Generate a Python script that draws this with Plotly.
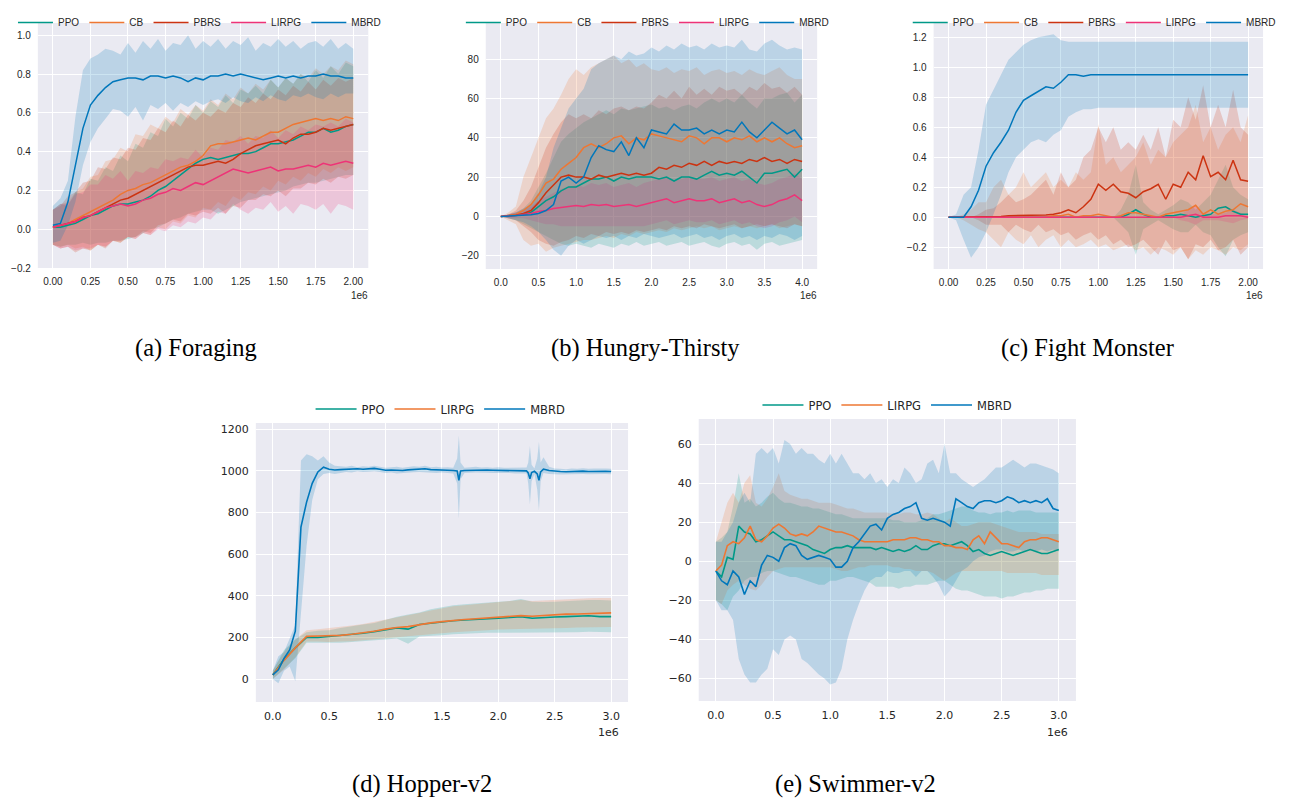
import plotly.graph_objects as go

# ---------------- data ----------------
A_STEPS = [round(0.05 * i, 2) for i in range(41)]      # x 1e6, Foraging
B_STEPS = [round(0.1 * i, 1) for i in range(41)]       # x 1e6, Hungry-Thirsty
C_STEPS = [round(0.05 * i, 2) for i in range(41)]      # x 1e6, Fight Monster
D_STEPS = [round(0.1 * i, 1) for i in range(31)]       # x 1e6, Hopper (PPO, LIRPG)
D_MBRD_STEPS = [0.00, 0.05, 0.10, 0.15, 0.20, 0.25, 0.30, 0.35, 0.40, 0.45,
                0.50, 0.55, 0.60, 0.65, 0.70, 0.75, 0.80, 0.85, 0.90, 0.95,
                1.00, 1.05, 1.10, 1.15, 1.20, 1.25, 1.30, 1.35, 1.40, 1.45,
                1.50, 1.55, 1.60, 1.635, 1.65, 1.665,
                1.70, 1.75, 1.80, 1.85, 1.90, 1.95, 2.00, 2.05, 2.10, 2.15, 2.20, 2.25,
                2.265, 2.28, 2.295, 2.32, 2.345, 2.36, 2.375,
                2.40, 2.45, 2.50, 2.55, 2.60, 2.65, 2.70, 2.75, 2.80, 2.85, 2.90, 2.95, 3.00]
E_STEPS = [round(0.05 * i, 2) for i in range(61)]      # x 1e6, Swimmer

# (a) Foraging
A_PPO = [0.01,0.01,0.02,0.03,0.05,0.07,0.08,0.10,0.12,0.13, 0.13,0.14,0.15,0.17,0.20,0.22,0.25,0.28,0.31,0.34,
         0.36,0.37,0.36,0.37,0.38,0.39,0.39,0.40,0.42,0.44, 0.44,0.45,0.46,0.48,0.50,0.50,0.52,0.50,0.51,0.53, 0.54]
A_PPO_UP = [0.10,0.13,0.12,0.19,0.18,0.26,0.25,0.32,0.30,0.38, 0.35,0.44,0.42,0.50,0.48,0.57,0.53,0.60,0.57,0.64,
            0.60,0.66,0.63,0.69,0.65,0.72,0.70,0.74,0.70,0.77, 0.73,0.78,0.75,0.80,0.76,0.82,0.78,0.84,0.80,0.86, 0.84]
A_PPO_LO = [-0.08,-0.09,-0.08,-0.08,-0.07,-0.08,-0.07,-0.07,-0.06,-0.06, -0.05,-0.04,-0.02,0.00,0.01,0.03,0.05,0.06,0.08,0.09,
            0.10,0.10,0.08,0.10,0.12,0.14,0.15,0.16,0.17,0.18, 0.19,0.20,0.22,0.23,0.24,0.24,0.25,0.26,0.27,0.28, 0.28]
A_CB = [0.01,0.02,0.03,0.05,0.07,0.09,0.11,0.13,0.15,0.18, 0.20,0.21,0.23,0.24,0.26,0.28,0.30,0.32,0.33,0.35,
        0.38,0.43,0.44,0.44,0.45,0.46,0.47,0.46,0.48,0.50, 0.50,0.52,0.54,0.55,0.56,0.57,0.56,0.57,0.56,0.58, 0.57]
A_CB_UP = [0.10,0.13,0.14,0.19,0.21,0.27,0.28,0.35,0.36,0.42, 0.40,0.49,0.48,0.54,0.52,0.58,0.55,0.62,0.59,0.64,
           0.61,0.67,0.64,0.70,0.67,0.73,0.70,0.75,0.72,0.77, 0.73,0.78,0.75,0.80,0.78,0.83,0.80,0.84,0.82,0.87, 0.85]
A_CB_LO = [-0.08,-0.09,-0.08,-0.10,-0.09,-0.11,-0.08,-0.09,-0.06,-0.07, -0.04,-0.05,-0.02,-0.03,0.01,0.00,0.04,0.03,0.07,0.06,
           0.11,0.10,0.14,0.12,0.17,0.15,0.19,0.18,0.22,0.20, 0.25,0.23,0.27,0.25,0.29,0.27,0.31,0.29,0.32,0.30, 0.32]
A_PBRS = [0.01,0.02,0.03,0.04,0.06,0.07,0.09,0.11,0.13,0.15, 0.16,0.18,0.20,0.22,0.24,0.26,0.28,0.30,0.32,0.33,
          0.33,0.34,0.35,0.34,0.36,0.39,0.41,0.43,0.44,0.45, 0.46,0.44,0.47,0.49,0.49,0.50,0.52,0.51,0.52,0.53, 0.54]
A_PBRS_UP = [0.10,0.12,0.17,0.19,0.24,0.25,0.32,0.31,0.37,0.36, 0.42,0.41,0.47,0.46,0.52,0.50,0.56,0.53,0.59,0.56,
             0.60,0.58,0.62,0.60,0.65,0.63,0.68,0.65,0.70,0.67, 0.72,0.69,0.74,0.71,0.76,0.72,0.77,0.74,0.78,0.76, 0.78]
A_PBRS_LO = [-0.08,-0.10,-0.09,-0.12,-0.10,-0.11,-0.08,-0.10,-0.06,-0.07, -0.04,-0.04,-0.01,-0.02,0.02,0.03,0.05,0.04,0.08,0.07,
             0.09,0.08,0.11,0.08,0.12,0.11,0.15,0.15,0.18,0.17, 0.20,0.17,0.21,0.21,0.24,0.23,0.26,0.24,0.27,0.26, 0.28]
A_LIRPG = [0.01,0.02,0.03,0.04,0.06,0.07,0.09,0.11,0.12,0.13, 0.12,0.13,0.15,0.16,0.18,0.19,0.21,0.20,0.22,0.24,
           0.23,0.25,0.27,0.29,0.31,0.30,0.29,0.30,0.31,0.32, 0.30,0.31,0.31,0.32,0.33,0.32,0.34,0.33,0.34,0.35, 0.34]
A_LIRPG_UP = [0.10,0.13,0.13,0.18,0.19,0.23,0.23,0.28,0.26,0.30, 0.25,0.30,0.29,0.32,0.31,0.36,0.35,0.37,0.36,0.41,
              0.37,0.42,0.41,0.46,0.45,0.48,0.44,0.48,0.47,0.51, 0.47,0.51,0.49,0.53,0.51,0.54,0.53,0.55,0.53,0.57, 0.55]
A_LIRPG_LO = [-0.08,-0.10,-0.09,-0.11,-0.10,-0.10,-0.08,-0.09,-0.06,-0.06, -0.04,-0.05,-0.02,-0.03,0.00,-0.01,0.02,0.01,0.04,0.03,
              0.06,0.05,0.09,0.08,0.13,0.10,0.08,0.11,0.10,0.14, 0.09,0.12,0.08,0.13,0.12,0.10,0.13,0.08,0.13,0.12, 0.10]
A_MBRD = [0.02,0.03,0.14,0.34,0.52,0.64,0.69,0.73,0.76,0.77, 0.78,0.78,0.77,0.79,0.79,0.78,0.79,0.78,0.76,0.78,
          0.77,0.79,0.79,0.80,0.79,0.80,0.79,0.78,0.77,0.78, 0.79,0.78,0.79,0.78,0.79,0.79,0.80,0.79,0.79,0.78, 0.78]
A_MBRD_UP = [0.12,0.16,0.25,0.58,0.82,0.88,0.90,0.93,0.92,0.90, 0.96,0.91,0.97,0.93,0.98,0.92,0.96,0.95,1.00,0.93,
             0.97,0.94,0.98,0.93,0.97,0.95,0.99,0.92,0.96,0.94, 0.98,0.94,0.97,0.93,0.96,0.97,0.94,0.98,0.93,0.96, 0.93]
A_MBRD_LO = [-0.07,-0.06,0.02,0.14,0.33,0.45,0.52,0.57,0.62,0.61, 0.58,0.63,0.56,0.64,0.62,0.65,0.61,0.65,0.63,0.66,
             0.64,0.66,0.67,0.65,0.68,0.66,0.65,0.68,0.66,0.69, 0.67,0.66,0.69,0.68,0.70,0.68,0.67,0.70,0.68,0.70, 0.70]

# (b) Hungry-Thirsty
B_PPO = [0,0.2,0.5,1,2,5,8,10,13,15, 15,17,19,19,20,18,20,19,20,20, 20,19,20,18,20,20,19,21,23,21,
         22,21,23,20,17,22,22,23,24,20, 24]
B_PPO_UP = [0,1,2,4,8,15,22,30,38,42, 45,48,50,52,54,52,55,54,55,56, 57,55,56,54,56,57,55,58,60,58,
            60,58,62,58,55,60,60,62,63,58, 62]
B_PPO_LO = [0,-1,-2,-4,-6,-8,-10,-12,-14,-15, -14,-15,-16,-14,-15,-16,-14,-15,-13,-15, -14,-13,-15,-14,-13,-15,-14,-13,-15,-16,
            -14,-13,-15,-14,-17,-14,-13,-15,-14,-13, -12]
B_CB = [0,0.5,1,3,6,11,17,19,24,27, 30,35,37,35,37,40,41,37,40,39, 42,41,40,39,38,41,40,37,40,40,
        38,40,39,41,38,40,38,40,37,35, 36]
B_CB_UP = [0,2,5,20,30,40,50,55,62,70, 75,72,76,78,80,82,78,80,76,78, 75,74,76,73,75,74,76,72,74,75,
           73,74,72,75,73,72,74,76,72,70, 70]
B_CB_LO = [0,-2,-4,-12,-15,-14,-18,-16,-15,-14, -13,-12,-12,-11,-10,-11,-9,-10,-8,-9, -8,-7,-8,-6,-7,-6,-5,-6,-5,-7,
           -6,-5,-6,-5,-6,-5,-4,-6,-5,-4, -5]
B_PBRS = [0,0.3,0.6,1.5,3,7,12,16,20,21, 20,20,19,21,20,21,22,21,22,21, 22,25,24,26,25,27,26,28,26,28,
          27,28,27,29,28,30,28,29,27,29, 28]
B_PBRS_UP = [0,1,3,8,15,25,35,42,48,52, 50,52,50,54,52,55,56,54,56,55, 58,62,60,64,60,66,62,65,62,66,
             64,65,62,66,64,68,65,66,63,66, 62]
B_PBRS_LO = [0,-1,-2,-5,-8,-12,-14,-15,-13,-12, -10,-11,-9,-10,-8,-9,-8,-9,-7,-8, -7,-6,-7,-5,-6,-5,-6,-4,-5,-6,
             -5,-4,-6,-5,-4,-5,-4,-5,-6,-4, -5]
B_LIRPG = [0,0.2,0.5,1,1.5,2.5,3,4,4.5,5, 5.5,5,6,5.5,6,5,5.5,6,5,6, 7,8,9,7,8,9,8,8,9,7,
           8,9,7,8,6,5,6,8,9,11, 8]
B_LIRPG_UP = [0,1,2,3,5,8,10,12,14,15, 16,15,17,16,17,15,16,17,15,17, 18,19,20,18,19,20,19,19,20,18,
              19,20,18,19,17,16,17,19,20,22, 19]
B_LIRPG_LO = [0,-1,-1,-1,-2,-3,-4,-4,-5,-5, -5,-5,-5,-5,-5,-5,-5,-5,-5,-5, -4,-3,-2,-4,-3,-2,-3,-3,-2,-4,
              -3,-2,-4,-3,-5,-6,-5,-3,-2,0, -3]
B_MBRD = [0,0.2,0.3,0.5,0.8,1.5,3,6,18,20, 17,20,30,36,34,33,38,31,40,35, 44,43,42,47,44,44,45,42,44,42,
          44,43,48,43,40,44,48,45,42,44, 39]
B_MBRD_UP = [0,1,2,4,6,12,20,35,45,55, 60,65,75,78,80,82,80,84,82,83, 86,84,87,85,88,86,87,85,88,86,
             87,86,90,85,84,88,90,87,85,86, 85]
B_MBRD_LO = [0,-1,-2,-3,-5,-8,-12,-17,-20,-15, -12,-14,-12,-10,-11,-10,-12,-10,-11,-9, -10,-11,-10,-9,-11,-10,-9,-11,-10,-12,
             -10,-9,-11,-10,-12,-10,-11,-9,-10,-12, -10]

# (c) Fight Monster
C_PPO = [0,0,0,0,0,0,0,0,0,0, 0,0,0,0,0,0,0,0,0,0, 0,0,0,0,0.02,0.05,0.02,0,0,0.01,
         0.01,0.02,0.01,0,0.01,0.02,0.06,0.07,0.04,0.02, 0.02]
C_PPO_UP = [0,0,0,0,0,0,0,0,0,0, 0,0,0,0,0,0,0,0,0,0, 0,0,0,0.05,0.15,0.35,0.10,0.05,0.02,0.05,
            0.08,0.12,0.10,0.05,0.10,0.15,0.25,0.35,0.20,0.15, 0.12]
C_PPO_LO = [0,0,0,0,0,0,0,0,0,0, 0,0,0,0,0,0,0,0,0,0, 0,0,0,-0.05,-0.10,-0.25,-0.08,-0.05,-0.02,-0.05,
            -0.08,-0.10,-0.10,-0.05,-0.10,-0.12,-0.20,-0.26,-0.15,-0.12, -0.10]
C_CB = [0,0,0,0,0,0,0,0,0,0, 0,0,0,0,0.01,0.01,0.02,0,0.01,0.01, 0.02,0.01,0,0.01,0.03,0.03,0.02,0.01,0,0.02,
        0.03,0.04,0.05,0.08,0.02,0.05,0.02,0.04,0.05,0.09, 0.07]
C_CB_UP = [0,0,0.02,0.05,0.10,0.10,0.20,0.25,0.15,0.20, 0.30,0.20,0.25,0.30,0.20,0.25,0.20,0.30,0.25,0.30,
           0.62,0.35,0.40,0.30,0.35,0.40,0.50,0.35,0.45,0.40, 0.50,0.55,0.60,0.75,0.50,0.60,0.45,0.55,0.60,0.50, 0.68]
C_CB_LO = [0,0,-0.02,-0.05,-0.08,-0.10,-0.15,-0.20,-0.10,-0.15, -0.18,-0.12,-0.20,-0.15,-0.12,-0.20,-0.15,-0.20,-0.18,-0.15,
           -0.20,-0.18,-0.22,-0.20,-0.18,-0.22,-0.20,-0.25,-0.20,-0.22, -0.25,-0.20,-0.28,-0.22,-0.25,-0.20,-0.22,-0.25,-0.20,-0.22, -0.18]
C_PBRS = [0,0,0,0,0,0,0.005,0.005,0.01,0.01, 0.01,0.01,0.01,0.015,0.02,0.03,0.05,0.03,0.07,0.12,
          0.22,0.18,0.22,0.17,0.16,0.13,0.17,0.19,0.22,0.12, 0.22,0.20,0.30,0.25,0.41,0.27,0.30,0.25,0.38,0.25, 0.24]
C_PBRS_UP = [0,0,0,0,0.02,0.05,0.06,0.10,0.15,0.10, 0.12,0.15,0.20,0.25,0.15,0.30,0.20,0.25,0.40,0.45,
             0.60,0.50,0.60,0.45,0.50,0.45,0.55,0.45,0.60,0.40, 0.65,0.60,0.80,0.65,0.88,0.60,0.75,0.60,0.85,0.60, 0.55]
C_PBRS_LO = [0,0,0,0,-0.02,-0.05,-0.05,-0.05,-0.10,-0.05, -0.08,-0.10,-0.05,-0.10,-0.08,-0.12,-0.10,-0.15,-0.12,-0.10,
             -0.15,-0.12,-0.18,-0.15,-0.20,-0.18,-0.15,-0.20,-0.25,-0.15, -0.22,-0.20,-0.28,-0.18,-0.20,-0.15,-0.22,-0.20,-0.15,-0.25, -0.20]
C_LIRPG = [0,0,0,0,0,0,0,0,0,0, 0,0,0,0,0,0,0,0,0,0, 0,0,0,0,0,0,0,0,0,0,
           0,0,0.01,0.02,0,0,0,0.01,0.01,0.01, 0]
C_LIRPG_UP = [0,0,0,0,0,0,0,0,0,0, 0,0,0,0,0,0,0,0,0,0, 0,0,0,0,0,0,0,0,0,0,
              0,0.02,0.05,0.08,0.03,0.02,0.02,0.03,0.05,0.03, 0.01]
C_LIRPG_LO = [0,0,0,0,0,0,0,0,0,0, 0,0,0,0,0,0,0,0,0,0, 0,0,0,0,0,0,0,0,0,0,
              0,-0.02,-0.03,-0.05,-0.02,-0.02,-0.02,-0.03,-0.04,-0.02, -0.01]
C_MBRD = [0,0,0,0.07,0.18,0.34,0.43,0.50,0.58,0.70, 0.78,0.81,0.84,0.87,0.86,0.90,0.95,0.95,0.94,0.95,
          0.95,0.95,0.95,0.95,0.95,0.95,0.95,0.95,0.95,0.95, 0.95,0.95,0.95,0.95,0.95,0.95,0.95,0.95,0.95,0.95, 0.95]
C_MBRD_UP = [0,0.02,0.15,0.20,0.45,0.75,0.85,0.95,1.05,1.10, 1.15,1.18,1.20,1.21,1.22,1.18,1.17,1.17,1.17,1.17,
             1.17,1.17,1.17,1.17,1.17,1.17,1.17,1.17,1.17,1.17, 1.17,1.17,1.17,1.17,1.17,1.17,1.17,1.17,1.17,1.17, 1.17]
C_MBRD_LO = [0,-0.02,-0.15,-0.27,-0.20,-0.10,0.02,0.15,0.30,0.40, 0.45,0.50,0.52,0.50,0.55,0.58,0.67,0.70,0.72,0.72,
             0.73,0.73,0.73,0.73,0.73,0.73,0.73,0.73,0.73,0.73, 0.73,0.73,0.73,0.73,0.73,0.73,0.73,0.73,0.73,0.73, 0.73]

# (d) Hopper-v2
D_PPO = [20,95,150,200,200,205,208,213,220,228, 238,246,240,262,268,275,280,284,286,288,
         292,296,300,292,296,298,300,302,304,300, 300]
D_PPO_UP = [40,140,190,225,232,235,245,255,262,270, 285,300,310,320,335,345,355,360,365,370,
            372,375,385,372,370,372,375,378,380,380, 378]
D_PPO_LO = [0,50,100,175,172,175,175,178,182,185, 190,195,170,205,208,210,215,218,220,222,
            222,225,225,222,225,225,225,225,228,226, 225]
D_LIRPG = [20,90,150,205,207,208,210,215,222,230, 240,248,252,262,270,276,282,286,290,293,
           298,302,305,302,306,308,312,313,315,316, 318]
D_LIRPG_UP = [40,130,190,235,240,245,250,258,265,275, 285,298,305,318,330,340,350,355,360,365,
              368,372,380,375,378,380,385,385,388,390, 390]
D_LIRPG_LO = [0,45,105,180,180,178,180,182,186,192, 198,202,205,210,215,220,225,230,232,235,
              238,240,242,240,242,245,246,248,250,250, 250]
D_MBRD = [20,45,100,140,230,730,850,940,995,1018, 1008,1004,1006,1008,1007,1010,1008,1010,1012,1008,
          1003,1004,1003,1002,1005,1006,1008,1010,1006,1004, 1004,1003,1002, 1000,955,1000,
          1002,1003,1004,1005,1004,1003,1003,1002,1002,1001,1000,1000, 990,962,992,998,985,955,995,
          1008,1002,998,997,996,998,997,999,997,998,997,998,997]
D_MBRD_UP = [40,110,130,200,260,1050,1080,1070,1050,1070, 1040,1025,1022,1020,1025,1018,1022,1020,1025,1020,
             1015,1018,1020,1015,1018,1022,1020,1025,1018,1020, 1016,1018,1015, 1060,1170,1040,
             1015,1018,1020,1016,1018,1015,1017,1015,1016,1014,1015,1016, 1040,1120,1030,1012,1060,1140,1040,
             1065,1020,1012,1010,1008,1012,1010,1013,1010,1012,1010,1011,1010]
D_MBRD_LO = [0,-20,40,60,-10,320,640,860,960,985, 990,985,990,995,992,998,995,996,998,995,
             990,992,988,990,992,994,995,996,992,990, 992,990,988, 940,770,960,
             990,991,992,993,991,990,990,989,990,988,986,987, 940,840,950,985,910,810,950,
             990,985,984,983,984,985,984,985,984,985,984,985,984]

# (e) Swimmer-v2
E_PPO = [-5,-8,2,1,18,15,14,10,11,13, 15,13,11,11,10,9,8,6,5,4, 6,7,7,8,7,7,7,7,6,7,
         6,5,6,5,6,8,6,6,8,9, 9,8,9,10,8,5,6,4,3,4, 5,4,3,4,5,6,5,4,4,5,6]
E_PPO_UP = [10,12,15,28,45,30,32,28,30,33, 35,32,30,30,29,28,28,27,27,26, 25,24,24,23,22,22,22,22,22,22,
            22,21,21,20,20,20,21,22,24,24, 25,26,27,28,28,26,25,25,24,25, 25,26,25,26,26,26,25,25,25,25,25]
E_PPO_LO = [-20,-22,-25,-18,-15,-10,-8,-8,-6,-5, -5,-6,-7,-8,-8,-9,-10,-11,-12,-12, -10,-10,-9,-8,-8,-9,-10,-11,-13,-13,
            -13,-13,-14,-13,-13,-12,-12,-12,-11,-10, -10,-12,-14,-15,-15,-16,-17,-18,-18,-18, -19,-18,-18,-17,-16,-16,-15,-15,-14,-14,-14]
E_LIRPG = [-5,-2,8,10,9,12,18,11,10,13, 17,19,17,14,13,14,13,15,18,17, 16,15,15,14,13,11,10,10,10,10,
           10,11,11,11,12,12,11,11,10,10, 8,8,7,7,6,11,13,9,15,12, 9,9,8,7,10,11,11,12,12,11,10]
E_LIRPG_UP = [10,20,30,35,30,40,44,30,28,32, 38,45,36,34,33,32,32,31,30,30, 30,29,28,27,27,26,25,25,25,25,
              25,24,24,25,25,24,24,25,24,22, 20,22,20,18,18,19,20,20,20,19, 18,17,16,15,15,15,15,14,14,14,14]
E_LIRPG_LO = [-20,-22,-15,-12,-10,-12,-14,-15,-12,-8, -5,-4,-3,-3,-3,-3,-3,-3,-3,-3, -3,-4,-5,-5,-4,-3,-3,-2,-2,-2,
              -2,-3,-3,-4,-4,-5,-5,-5,-6,-8, -10,-8,-6,-5,-5,-5,-5,-5,-5,-5, -5,-6,-6,-6,-6,-6,-6,-7,-7,-7,-7]
E_MBRD = [-5,-10,-12,-5,-8,-17,-10,-13,-2,3, 2,0,7,9,8,3,1,2,3,2, 1,-3,-3,0,7,10,14,18,19,16,
          22,24,25,27,28,30,22,21,22,21, 20,18,32,30,28,27,30,31,31,30, 31,33,32,30,31,30,31,30,32,27,26]
E_MBRD_UP = [10,10,15,20,30,35,30,55,58,55, 58,50,62,60,55,58,55,55,52,50, 55,50,55,50,45,45,42,45,40,42,
             38,42,40,48,45,40,42,50,52,45, 60,45,45,42,40,38,40,42,45,48, 48,50,52,50,48,50,50,49,48,47,45]
E_MBRD_LO = [-20,-25,-25,-30,-50,-58,-62,-62,-58,-55, -45,-48,-40,-38,-40,-50,-52,-55,-58,-60, -63,-62,-55,-40,-30,-22,-15,-10,-8,-8,
             -5,-6,-6,-5,-5,-8,-5,-5,-8,-12, -18,-15,-10,-5,-3,0,2,3,5,6, 6,5,5,6,5,6,5,6,5,6,5]

A_TICKS_X = [0, 0.25, 0.5, 0.75, 1.0, 1.25, 1.5, 1.75, 2.0]
A_TICKS_Y = [-0.2, 0.0, 0.2, 0.4, 0.6, 0.8, 1.0]
B_TICKS_X = [0, 0.5, 1.0, 1.5, 2.0, 2.5, 3.0, 3.5, 4.0]
B_TICKS_Y = [-20, 0, 20, 40, 60, 80]
C_TICKS_X = [0, 0.25, 0.5, 0.75, 1.0, 1.25, 1.5, 1.75, 2.0]
C_TICKS_Y = [-0.2, 0.0, 0.2, 0.4, 0.6, 0.8, 1.0, 1.2]
D_TICKS_X = [0, 0.5, 1.0, 1.5, 2.0, 2.5, 3.0]
D_TICKS_Y = [0, 200, 400, 600, 800, 1000, 1200]
E_TICKS_X = [0, 0.5, 1.0, 1.5, 2.0, 2.5, 3.0]
E_TICKS_Y = [-60, -40, -20, 0, 20, 40, 60]

CAPTIONS = ["(a) Foraging", "(b) Hungry-Thirsty", "(c) Fight Monster", "(d) Hopper-v2", "(e) Swimmer-v2"]

# ---------------- style ----------------
W, H = 1289, 800          # browser window
OFF = 8                   # default page margin around the plot div
FW, FH = W - 2 * OFF, H - OFF
TEAL, ORANGE, RED, MAGENTA, BLUE = "#009988", "#EE7733", "#CC3311", "#EE3377", "#0077BB"
TOP_FONT = "Liberation Sans, Arial, sans-serif"
BOT_FONT = "DejaVu Sans, sans-serif"
SERIF = "Liberation Serif, Times New Roman, serif"
TXT = "#262626"


def rgba(h, a):
    h = h.lstrip("#")
    return "rgba(%d,%d,%d,%.2f)" % (int(h[0:2], 16), int(h[2:4], 16), int(h[4:6], 16), a)


def fx(px):
    return (px - OFF) / FW


def fy(py):
    return 1 - (py - OFF) / FH


# leg: (left px, centre px or None for "top of figure"); cap: (centre x px, centre y px or None for bottom)
panels = [
    dict(box=(38, 23, 370, 268), xr=[-0.1, 2.1], yr=[-0.2, 1.063], tx=A_TICKS_X, ty=A_TICKS_Y,
         fmtx=".2f", fmty=".1f", font=TOP_FONT, fs=10, lfs=10, iw=35, legend="legend", leg=(13, None), lw=1.5,
         cap=(197, 348), e6=(372, 295),
         series=[("PPO", A_STEPS, A_PPO, A_PPO_LO, A_PPO_UP, TEAL),
                 ("CB", A_STEPS, A_CB, A_CB_LO, A_CB_UP, ORANGE),
                 ("PBRS", A_STEPS, A_PBRS, A_PBRS_LO, A_PBRS_UP, RED),
                 ("LIRPG", A_STEPS, A_LIRPG, A_LIRPG_LO, A_LIRPG_UP, MAGENTA),
                 ("MBRD", A_STEPS, A_MBRD, A_MBRD_LO, A_MBRD_UP, BLUE)]),
    dict(box=(488, 23, 821, 269), xr=[-0.2, 4.2], yr=[-26.8, 98.5], tx=B_TICKS_X, ty=B_TICKS_Y,
         fmtx=".1f", fmty="d", font=TOP_FONT, fs=10, lfs=10, iw=35, legend="legend2", leg=(463, None), lw=1.5,
         cap=(649, 348), e6=(823, 295),
         series=[("PPO", B_STEPS, B_PPO, B_PPO_LO, B_PPO_UP, TEAL),
                 ("CB", B_STEPS, B_CB, B_CB_LO, B_CB_UP, ORANGE),
                 ("PBRS", B_STEPS, B_PBRS, B_PBRS_LO, B_PBRS_UP, RED),
                 ("LIRPG", B_STEPS, B_LIRPG, B_LIRPG_LO, B_LIRPG_UP, MAGENTA),
                 ("MBRD", B_STEPS, B_MBRD, B_MBRD_LO, B_MBRD_UP, BLUE)]),
    dict(box=(938, 23, 1269, 269), xr=[-0.1, 2.1], yr=[-0.345, 1.295], tx=C_TICKS_X, ty=C_TICKS_Y,
         fmtx=".2f", fmty=".1f", font=TOP_FONT, fs=10, lfs=10, iw=35, legend="legend3", leg=(912, None), lw=1.5,
         cap=(1093, 348), e6=(1271, 295),
         series=[("PPO", C_STEPS, C_PPO, C_PPO_LO, C_PPO_UP, TEAL),
                 ("CB", C_STEPS, C_CB, C_CB_LO, C_CB_UP, ORANGE),
                 ("PBRS", C_STEPS, C_PBRS, C_PBRS_LO, C_PBRS_UP, RED),
                 ("LIRPG", C_STEPS, C_LIRPG, C_LIRPG_LO, C_LIRPG_UP, MAGENTA),
                 ("MBRD", C_STEPS, C_MBRD, C_MBRD_LO, C_MBRD_UP, BLUE)]),
    dict(box=(257, 423, 631, 702), xr=[-0.15, 3.15], yr=[-110, 1230], tx=D_TICKS_X, ty=D_TICKS_Y,
         fmtx=".1f", fmty="d", font=BOT_FONT, fs=11, lfs=11.5, iw=41, legend="legend4", leg=(312, 409), lw=1.6,
         cap=(424, None), e6=(624, 732),
         series=[("PPO", D_STEPS, D_PPO, D_PPO_LO, D_PPO_UP, TEAL),
                 ("LIRPG", D_STEPS, D_LIRPG, D_LIRPG_LO, D_LIRPG_UP, ORANGE),
                 ("MBRD", D_MBRD_STEPS, D_MBRD, D_MBRD_LO, D_MBRD_UP, BLUE)]),
    dict(box=(702, 419, 1081, 701), xr=[-0.15, 3.15], yr=[-71.5, 72.8], tx=E_TICKS_X, ty=E_TICKS_Y,
         fmtx=".1f", fmty="d", font=BOT_FONT, fs=11, lfs=11.5, iw=41, legend="legend5", leg=(761, 405), lw=1.6,
         cap=(860, None), e6=(1075, 732),
         series=[("PPO", E_STEPS, E_PPO, E_PPO_LO, E_PPO_UP, TEAL),
                 ("LIRPG", E_STEPS, E_LIRPG, E_LIRPG_LO, E_LIRPG_UP, ORANGE),
                 ("MBRD", E_STEPS, E_MBRD, E_MBRD_LO, E_MBRD_UP, BLUE)]),
]

fig = go.Figure()
layout = dict(template="none", width=FW, height=FH, autosize=False, margin=dict(l=0, r=0, t=0, b=0, pad=0),
              paper_bgcolor="white", plot_bgcolor="#EAEAF2", showlegend=True,
              font=dict(family=TOP_FONT, color=TXT))
annotations = []

for k, p in enumerate(panels):
    n = k + 1
    xa, ya = ("x" if n == 1 else "x%d" % n), ("y" if n == 1 else "y%d" % n)
    x0, y0, x1, y1 = p["box"]
    axfont = dict(family=p["font"], size=p["fs"], color=TXT)
    layout["xaxis" if n == 1 else "xaxis%d" % n] = dict(
        domain=[fx(x0), fx(x1)], range=p["xr"], anchor=ya, tickvals=p["tx"], tickformat=p["fmtx"],
        showgrid=True, gridcolor="white", gridwidth=1.2, zeroline=False, showline=False, automargin=False,
        ticks="", ticklabelstandoff=6, tickfont=axfont, fixedrange=True)
    layout["yaxis" if n == 1 else "yaxis%d" % n] = dict(
        domain=[fy(y1), fy(y0)], range=p["yr"], anchor=xa, tickvals=p["ty"], tickformat=p["fmty"],
        showgrid=True, gridcolor="white", gridwidth=1.2, zeroline=False, showline=False, automargin=False,
        ticks="", ticklabelstandoff=6, tickfont=axfont, fixedrange=True)
    # bands
    for name, xs, m, lo, up, c in p["series"]:
        fig.add_trace(go.Scatter(x=list(xs) + list(xs)[::-1], y=list(up) + list(lo)[::-1],
                                 fill="toself", fillcolor=rgba(c, 0.2), line=dict(width=0),
                                 mode="lines", hoverinfo="skip", showlegend=False, xaxis=xa, yaxis=ya))
    # mean lines
    for name, xs, m, lo, up, c in p["series"]:
        fig.add_trace(go.Scatter(x=xs, y=m, mode="lines", name=name, line=dict(color=c, width=p["lw"]),
                                 xaxis=xa, yaxis=ya, legend=p["legend"]))
    lx, ly = p["leg"]
    if ly is None:
        ypos, yanc = 1.0, "top"
    else:
        ypos, yanc = fy(ly), "middle"
    layout[p["legend"]] = dict(orientation="h", x=fx(lx), y=ypos, xanchor="left", yanchor=yanc,
                               bgcolor="rgba(0,0,0,0)", borderwidth=0, itemwidth=p["iw"],
                               font=dict(family=p["font"], size=p["lfs"], color=TXT),
                               itemclick=False, itemdoubleclick=False)
    cx, cy = p["cap"]
    if cy is None:
        cpos, canc = 0.0, "bottom"
    else:
        cpos, canc = fy(cy), "middle"
    annotations.append(dict(text=CAPTIONS[k], x=fx(cx), y=cpos, xref="paper", yref="paper",
                            xanchor="center", yanchor=canc, showarrow=False,
                            font=dict(family=SERIF, size=24.5, color="black")))
    ex, ey = p["e6"]
    annotations.append(dict(text="1e6", x=fx(ex), y=fy(ey), xref="paper", yref="paper",
                            xanchor="right", yanchor="middle", showarrow=False, font=axfont))

layout["annotations"] = annotations
fig.update_layout(**layout)
fig.write_html("out.html")
